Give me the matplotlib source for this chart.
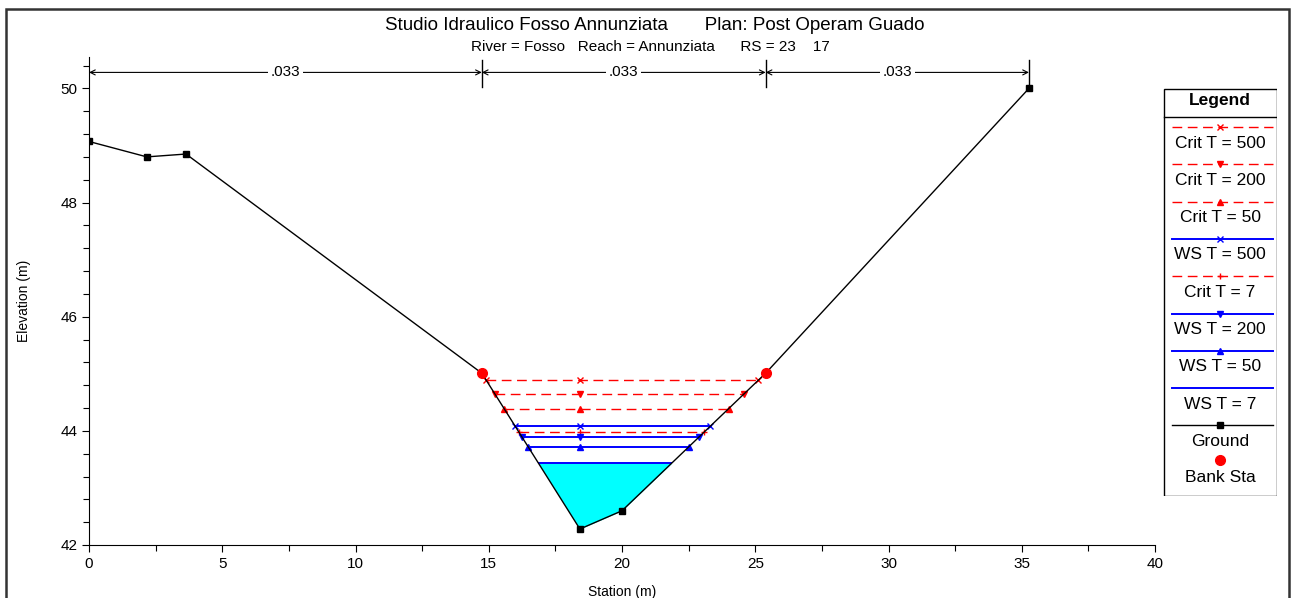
import matplotlib
matplotlib.use('Agg')
import matplotlib.pyplot as plt
import numpy as np
from matplotlib.patches import Rectangle
from matplotlib.ticker import MultipleLocator

plt.rcParams['font.family'] = ['Liberation Sans', 'DejaVu Sans']

station = [0.0, 2.17, 3.64, 14.74, 18.42, 20.0, 25.39, 35.27]
elevation = [49.07, 48.80, 48.85, 45.01, 42.28, 42.60, 45.01, 50.0]
bank_sta = [14.74, 25.39]
bank_elev = [45.01, 45.01]

# water surface profiles, in legend order
ws_names = ['Crit T = 500', 'Crit T = 200', 'Crit T = 50', 'WS T = 500',
            'Crit T = 7', 'WS T = 200', 'WS T = 50', 'WS T = 7']
ws_elev = [44.89, 44.65, 44.39, 44.08, 43.98, 43.90, 43.72, 43.43]

# manning n values between break points
n_values = ['.033', '.033', '.033']
n_breaks = [0.0, 14.74, 25.39, 35.27]

# styles
ws_colors = ['red', 'red', 'red', 'blue', 'red', 'blue', 'blue', 'blue']
ws_ls = ['--', '--', '--', '-', '--', '-', '-', '-']
ws_marker = ['x', 'v', '^', 'x', '+', 'v', '^', None]

st = np.array(station)
el = np.array(elevation)
i0 = int(np.argmin(el))


def crossing(h, step):
    # walk away from the thalweg until the ground rises above h
    i = i0
    while el[i + step] < h:
        i += step
    j = i + step
    t = (h - el[i]) / (el[j] - el[i])
    return st[i] + t * (st[j] - st[i])


def line_style(k):
    if ws_ls[k] == '--':
        return dict(color=ws_colors[k], lw=1.0, dashes=(7, 4))
    return dict(color=ws_colors[k], lw=1.4, ls='-')


fig = plt.figure(figsize=(12.91, 5.98), dpi=100)
ax = fig.add_axes([89 / 1291, 1 - 545 / 598, (1155 - 89) / 1291, (545 - 57) / 598])

# filled lowest water surface
h7 = ws_elev[-1]
xl, xr = crossing(h7, -1), crossing(h7, 1)
inside = (st > xl) & (st < xr)
fx = np.concatenate([[xl], st[inside], [xr]])
fy = np.concatenate([[h7], el[inside], [h7]])
ax.fill_between(fx, fy, h7, color='#00FFFF', lw=0)

for k in range(len(ws_names)):
    h = ws_elev[k]
    xa, xb = crossing(h, -1), crossing(h, 1)
    ax.plot([xa, st[i0], xb], [h, h, h], marker=ws_marker[k], ms=5, mew=1.0,
            zorder=3, **line_style(k))

ax.plot(station, elevation, color='black', lw=1.0, marker='s', ms=5, zorder=4)
ax.plot(bank_sta, bank_elev, 'o', color='red', ms=7, zorder=5)

# manning n arrows along the top
y_arrow = 50.28
for k in range(len(n_values)):
    x0, x1 = n_breaks[k], n_breaks[k + 1]
    ax.annotate('', xy=(x0, y_arrow), xytext=(x1, y_arrow),
                arrowprops=dict(arrowstyle='<->', lw=0.8, color='black',
                                shrinkA=0, shrinkB=0, mutation_scale=9))
    ax.text((x0 + x1) / 2, y_arrow, n_values[k], ha='center', va='center', fontsize=11,
            bbox=dict(facecolor='white', edgecolor='none', pad=2))
for x in n_breaks[1:]:
    ax.plot([x, x], [50.02, 50.5], color='black', lw=1.0, clip_on=False)

ax.set_xlim(0, 40)
ax.set_ylim(42, 50.55)
ax.xaxis.set_major_locator(MultipleLocator(5))
ax.xaxis.set_minor_locator(MultipleLocator(2.5))
ax.yaxis.set_major_locator(MultipleLocator(2))
ax.yaxis.set_minor_locator(MultipleLocator(0.4))
ax.tick_params(which='major', length=5, width=0.8, labelsize=11)
ax.tick_params(which='minor', length=4, width=0.8)
ax.spines['top'].set_visible(False)
ax.spines['right'].set_visible(False)
ax.set_xlabel('Station (m)', fontsize=10, labelpad=10)
ax.set_ylabel('Elevation (m)', fontsize=10, labelpad=21)

fig.text(655 / 1291, 1 - 26 / 598, 'Studio Idraulico Fosso Annunziata       Plan: Post Operam Guado',
         ha='center', va='center', fontsize=13.5)
fig.text(650 / 1291, 1 - 47 / 598, 'River = Fosso   Reach = Annunziata      RS = 23    17',
         ha='center', va='center', fontsize=11)

# legend box drawn by hand: sample line above each label
lg = fig.add_axes([1163 / 1291, 1 - 496 / 598, (1277 - 1163) / 1291, (496 - 88) / 598])
lg.set_xlim(0, 114)
lg.set_ylim(408, 0)
lg.axis('off')
lg.add_patch(Rectangle((0.5, 0.5), 113, 407, fill=False, edgecolor='black', lw=1.0))
lg.plot([0.5, 113.5], [29, 29], color='black', lw=1.0)
lg.text(57, 13, 'Legend', ha='center', va='center', fontsize=12.5, fontweight='bold')
for k in range(len(ws_names)):
    yy = 39 + 37.3 * k
    lg.plot([9, 110], [yy, yy], **line_style(k))
    if ws_marker[k]:
        lg.plot([57], [yy], marker=ws_marker[k], color=ws_colors[k], ms=5, mew=1.0)
    lg.text(57, yy + 16, ws_names[k], ha='center', va='center', fontsize=12.5)
yy = 39 + 37.3 * 8
lg.plot([9, 110], [yy, yy], color='black', lw=1.0)
lg.plot([57], [yy], marker='s', color='black', ms=5)
lg.text(57, yy + 16, 'Ground', ha='center', va='center', fontsize=12.5)
lg.plot([57], [372], 'o', color='red', ms=7)
lg.text(57, 390, 'Bank Sta', ha='center', va='center', fontsize=12.5)

# outer frame of the plot window
fig.patches.append(Rectangle((6 / 1291, -0.05), (1289 - 6) / 1291, 1.05 - 9 / 598,
                             transform=fig.transFigure, fill=False,
                             edgecolor='#333333', lw=1.8))

fig.savefig('out.png', dpi=100)
